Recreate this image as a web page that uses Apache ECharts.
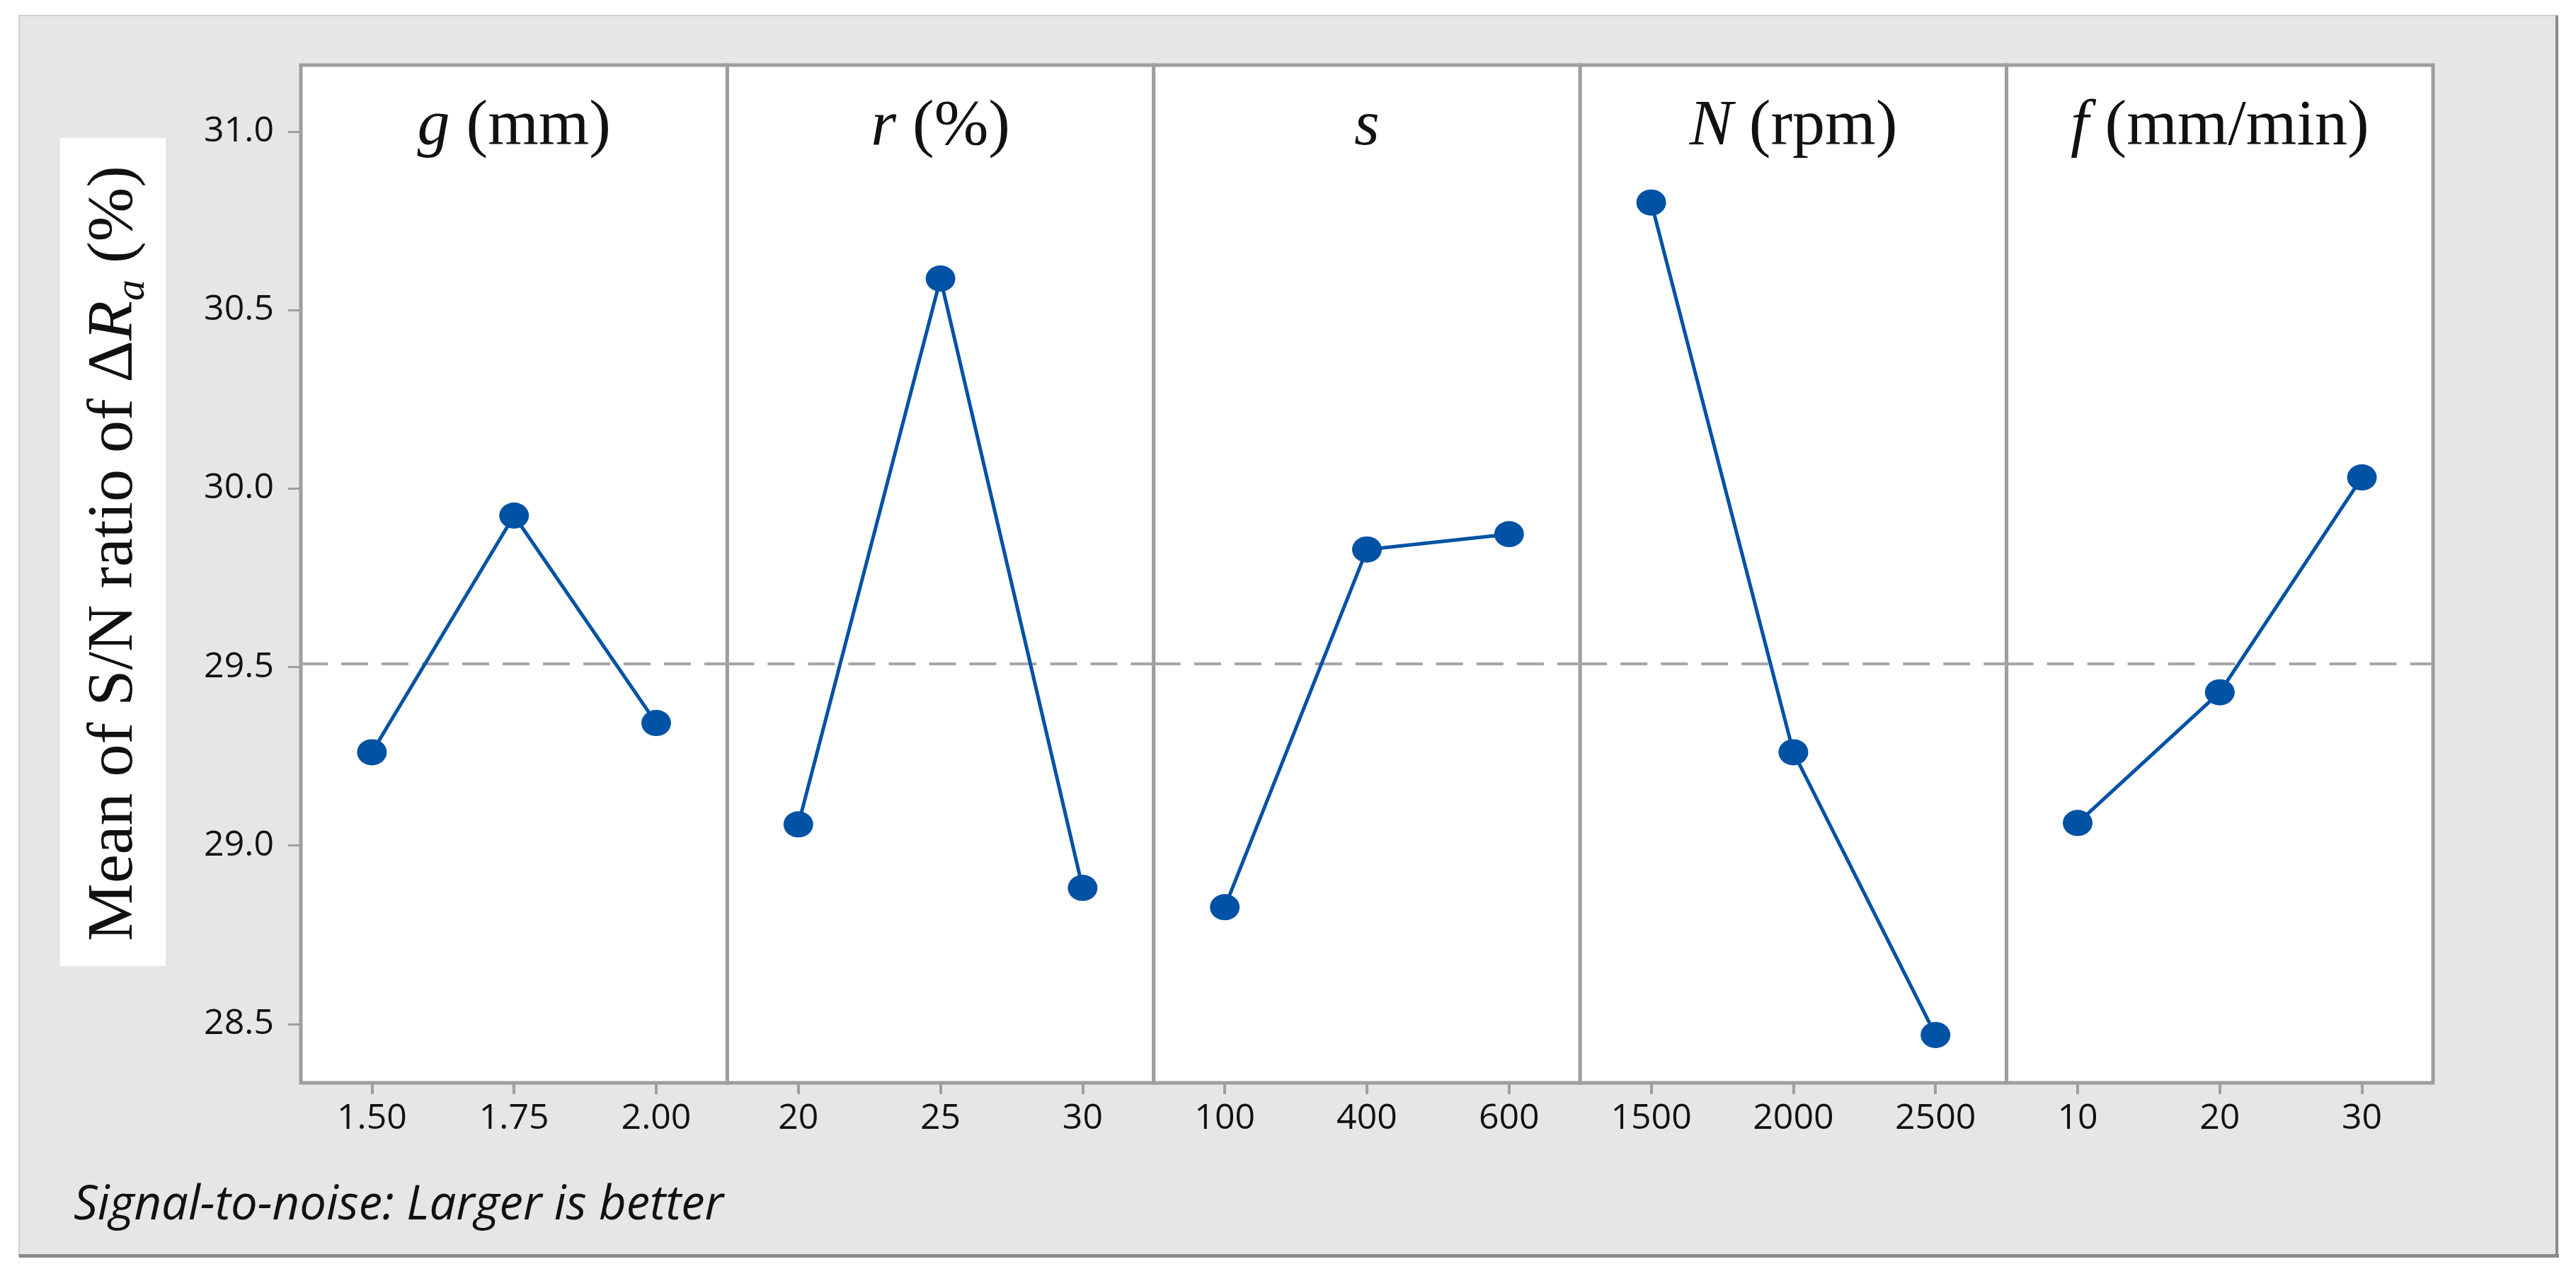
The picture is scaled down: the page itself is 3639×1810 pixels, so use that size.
<!DOCTYPE html>
<html><head><meta charset="utf-8">
<script src="https://cdn.jsdelivr.net/npm/echarts@6/dist/echarts.min.js"></script>
<style>html,body{margin:0;padding:0;background:#fff}#c{width:3639px;height:1810px}</style>
</head><body><div id="c"></div>
<script>
// ---- data ----
const factorSymbols = ['g', 'r', 's', 'N', 'f'];
const factorUnits = [' (mm)', ' (%)', '', ' (rpm)', ' (mm/min)'];
const levelsG = ['1.50', '1.75', '2.00'];
const levelsR = ['20', '25', '30'];
const levelsS = ['100', '400', '600'];
const levelsN = ['1500', '2000', '2500'];
const levelsF = ['10', '20', '30'];
const snG = [29.261, 29.924, 29.343];
const snR = [29.059, 30.588, 28.881];
const snS = [28.827, 29.829, 29.872];
const snN = [30.801, 29.261, 28.469];
const snF = [29.063, 29.429, 30.031];
const overallMean = 29.51;
const yTickValues = [28.5, 29.0, 29.5, 30.0, 30.5, 31.0];
const yMin = 28.335, yMax = 31.186;
const yAxisTitle = 'Mean of S/N ratio of Δ{i|R}{sub|a} (%)';
const footerText = 'Signal-to-noise: Larger is better';

// ---- layout ----
const levels = [levelsG, levelsR, levelsS, levelsN, levelsF];
const values = [snG, snR, snS, snN, snF];
const L = 425, T = 92, W = 602.4, H = 1438;
const gray = '#9e9e9e';
const blue = '#0052a5';
const txt = '#111111';

const grids = [], xAxes = [], yAxes = [], series = [], graphics = [];

graphics.push({type: 'rect', z: -10, shape: {x: 27, y: 22, width: 3586, height: 1753},
  style: {fill: '#e6e6e6', stroke: '#cfcfcf', lineWidth: 2}});
graphics.push({type: 'rect', z: -9, shape: {x: 27, y: 1772, width: 3588, height: 5}, style: {fill: '#8a8a8a'}});
graphics.push({type: 'rect', z: -9, shape: {x: 3610, y: 22, width: 4, height: 1755}, style: {fill: '#8a8a8a'}});
graphics.push({type: 'rect', z: -8, shape: {x: 85, y: 195, width: 149, height: 1170}, style: {fill: '#ffffff'}});
graphics.push({type: 'text', z: 10, x: 162, y: 782, rotation: Math.PI / 2,
  style: {text: yAxisTitle, align: 'center', verticalAlign: 'middle', fill: txt,
    fontFamily: 'Liberation Serif', fontSize: 92,
    rich: {
      i: {fontFamily: 'Liberation Serif', fontSize: 92, fontStyle: 'italic', fill: txt, lineHeight: 110},
      sub: {fontFamily: 'Liberation Serif', fontSize: 60, fontStyle: 'italic', fill: txt, verticalAlign: 'bottom', lineHeight: 70}
    }}});
graphics.push({type: 'text', z: 10, x: 104, y: 1704,
  style: {text: footerText, align: 'left', verticalAlign: 'middle', fill: txt,
    fontFamily: 'Open Sans', fontStyle: 'italic', fontSize: 67}});

for (let i = 0; i < 5; i++) {
  grids.push({left: L + i * W, top: T, width: W, height: H, show: true,
    backgroundColor: '#ffffff', borderColor: gray, borderWidth: 5});
  xAxes.push({type: 'category', gridIndex: i, data: levels[i], boundaryGap: true,
    axisLine: {show: false},
    axisTick: {show: true, alignWithLabel: true, length: 16, lineStyle: {color: gray, width: 4}},
    axisLabel: {margin: 26, fontSize: 50, fontFamily: 'Open Sans', color: txt},
    splitLine: {show: false}});
  yAxes.push({type: 'value', gridIndex: i, min: yMin, max: yMax,
    axisLine: {show: false},
    axisTick: {show: i === 0, length: 18, customValues: yTickValues, lineStyle: {color: gray, width: 3}},
    axisLabel: {show: i === 0, customValues: yTickValues, margin: 38, fontSize: 50, fontFamily: 'Open Sans', color: txt,
      formatter: v => Number(v).toFixed(1)},
    splitLine: {show: false}});
  series.push({type: 'line', xAxisIndex: i, yAxisIndex: i, data: values[i],
    symbol: 'circle', symbolSize: [42, 37], itemStyle: {color: blue},
    lineStyle: {color: blue, width: 5}, animation: false, z: 5,
    markLine: {silent: true, symbol: ['none', 'none'], label: {show: false},
      lineStyle: {type: [38, 19], color: '#a6a6a6', width: 4}, data: [{yAxis: overallMean}]}});
  graphics.push({type: 'text', z: 10, x: L + (i + 0.5) * W, y: 180,
    style: {text: '{i|' + factorSymbols[i] + '}' + factorUnits[i], align: 'center', verticalAlign: 'middle',
      fill: txt, fontFamily: 'Liberation Serif', fontSize: 92,
      rich: {i: {fontFamily: 'Liberation Serif', fontSize: 92, fontStyle: 'italic', fill: txt}}}});
}

const chart = echarts.init(document.getElementById('c'));
chart.setOption({
  backgroundColor: '#ffffff',
  animation: false,
  grid: grids, xAxis: xAxes, yAxis: yAxes, series: series,
  graphic: graphics
});
</script></body></html>
